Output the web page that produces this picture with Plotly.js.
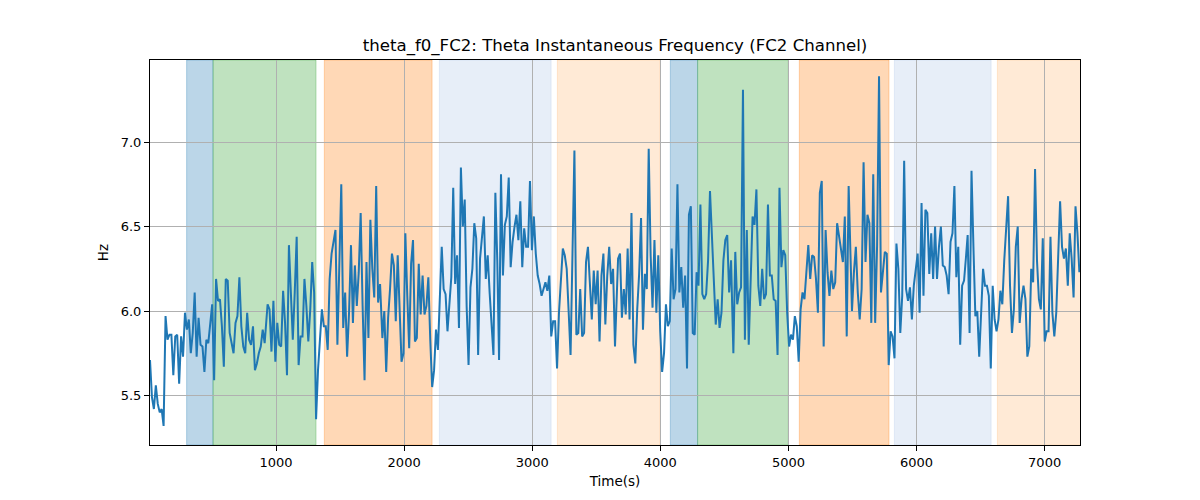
<!DOCTYPE html>
<html>
<head>
<meta charset="utf-8">
<script src="https://cdn.plot.ly/plotly-3.0.1.min.js"></script>
<style>html,body{margin:0;padding:0;background:#fff;}#chart{width:1200px;height:500px;}</style>
</head>
<body>
<div id="chart"></div>
<script>
// Series values (Hz)
var seg1 = [5.71,5.49,5.42,5.56,5.45,5.40,5.42,5.32,5.97,5.83,5.86,5.86,5.62,5.85,5.86,5.57,5.85,5.73,5.99,5.89,5.95,5.75,5.87,6.11,5.73,5.96,5.80,5.79,5.64,5.83,5.81,5.93,6.04,5.59,6.19,6.06,6.07,5.91,5.67,6.19,6.18,5.87,5.81,5.75,5.93,5.97,6.20,5.91,5.79,5.75,5.99,5.83,5.80,5.91,5.65,5.69,5.75,5.79,5.89,5.81];
var seg2 = [6.04,6.01,5.76,6.06,5.70,5.93,5.80,5.79,6.12,5.93,5.62,6.39,6.11,5.83,6.11,6.44,5.68,5.85,5.85,6.19,6.03,5.82,6.01,6.29,6.11,5.36,5.65,5.85,6.01,5.91,5.91,5.77,6.19,6.34,6.42,6.48,5.80,6.23,6.75,5.90,6.11,5.73,5.99,6.39,5.93,6.27,6.03,6.23,6.58,6.03,5.59,6.29,5.84,6.54,6.25,6.08,6.74,6.05,6.16];
var seg3 = [5.84,6.00,5.64,5.96,6.13,6.34,6.27,5.94,6.33,6.03,5.70,5.75,6.46,6.09,5.78,6.28,6.42,5.82,5.84,6.28,5.98,6.21,5.98,6.03,6.20,5.83,5.55,5.65,5.89,5.77,6.08,6.38,6.13,6.10,5.88,6.05,6.20,6.73,6.16,6.33,5.90,6.85,6.50,6.66,6.03,5.68,6.14,6.25,6.52,6.43,5.74,6.31,6.46,6.56,6.19,6.33,6.11,5.91,5.74,6.70,6.30];
var seg4 = [5.71,6.81,6.21,6.51,6.56,6.79,6.26,6.41,6.50,6.57,6.42,6.65,6.26,6.49,6.38,6.38,6.77,6.36,6.56,6.34,6.21,6.16,6.09,6.13,6.17,6.12,6.21,5.85,5.94,5.94,5.66,5.99,6.19,6.37,6.33,6.25,6.00,5.74,6.34,6.95,5.86,5.87,6.13,5.85,5.87,6.29,6.38,6.19,5.95,6.24,6.04,6.24,5.82,6.21,6.34,5.92,6.21,6.38,6.16,6.25,5.79];
var seg5 = [6.31,6.34,5.96,6.13,5.98,6.37,5.95,6.58,5.80,5.69,6.01,6.22,6.55,5.89,6.22,6.13,6.96,6.33,6.02,6.42,5.99,6.33,5.88,5.64,5.75,6.04,5.91,5.94,6.37,6.07,6.13,6.75,6.11,6.26,6.02,6.21,5.66,6.57,6.62,5.87,5.86,6.23,6.15,6.63,6.10,6.07,6.10,6.30,6.71,6.47,6.25,5.92,6.07,5.90,5.99,6.30,6.42,6.45,6.11,6.30];
var seg6 = [5.75,6.35,6.04,6.11,6.14,7.31,5.83,6.48,5.80,6.19,6.56,6.51,6.72,6.15,6.03,6.25,6.07,6.10,6.63,6.21,6.21,6.07,6.06,5.74,6.73,6.26,6.36,6.33,5.99,5.79,5.86,5.83,5.97,5.91,5.70,6.01,6.11,6.07,6.21,6.39,6.19,6.33,6.32,6.19,5.99,6.70,6.77,5.79,6.48,6.23,6.09,6.24,6.13,6.17,6.52,6.44,6.36,6.29,6.56,5.85,6.74];
var seg7 = [6.00,6.23,6.38,6.11,5.95,6.13,6.88,6.29,6.57,6.52,5.93,6.81,5.93,6.39,7.39,6.11,6.23,6.35,6.34,5.68,5.88,5.85,5.72,6.40,6.25,5.87,6.09,6.89,6.13,6.06,6.14,5.95,6.15,6.24,6.34,5.99,6.64,6.09,6.60,6.58,6.22,6.46,6.19,6.50,6.19,6.38,6.50,6.27,6.26,6.21,6.10,6.41,6.46,6.74,6.20,6.38,5.80,6.15,6.18,6.32];
var seg8 = [6.45,5.87,6.83,6.38,5.97,6.00,5.73,5.99,6.25,6.15,6.15,6.09,5.66,6.15,5.95,5.88,5.95,6.12,6.04,6.30,6.48,6.68,6.15,5.87,6.01,6.38,6.50,5.93,6.07,6.15,6.07,5.73,5.79,6.25,6.17,6.84,6.30,6.07,6.01,6.43,5.82,5.88,5.88,6.44,5.99,5.85,5.99,6.30,6.65,6.38,6.31,6.37,6.15,6.46,6.31,6.08,6.62,6.46,6.23];
// Time span (s) of each segment: [first, last]
var segTimes = [[16,911],[934,1812],[1830,2727],[2741,3646],[3670,4552],[4570,5470],[5496,6386],[6399,7271]];

// Shaded state intervals (s)
var spanStart = [302, 508, 1377, 2275, 3196, 4078, 4291, 5085, 5827, 6631];
var spanEnd   = [508, 1312, 2218, 3147, 3995, 4291, 4999, 5785, 6582, 7300];
var spanKind  = ['blue','green','orange','lightblue','lightorange','blue','green','orange','lightblue','lightorange'];

var xTicks = [1000,2000,3000,4000,5000,6000,7000];
var yTicks = [5.5,6.0,6.5,7.0];

var kindColor = {
  blue: 'rgba(31,119,180,0.3)',
  green: 'rgba(44,160,44,0.3)',
  orange: 'rgba(255,127,14,0.3)',
  lightblue: 'rgba(174,199,232,0.3)',
  lightorange: 'rgba(255,187,120,0.3)'
};

var segs = [seg1,seg2,seg3,seg4,seg5,seg6,seg7,seg8];
var xs = [], ys = [];
segs.forEach(function(s, k){
  var a = segTimes[k][0], b = segTimes[k][1];
  for (var i = 0; i < s.length; i++) {
    xs.push(a + (b - a) * i / (s.length - 1));
    ys.push(s[i]);
  }
});

var shapes = spanStart.map(function(s, i){
  return {type:'rect', xref:'x', yref:'paper', x0:s, x1:spanEnd[i], y0:0, y1:1,
          fillcolor: kindColor[spanKind[i]], line:{width:1, color: kindColor[spanKind[i]]}, layer:'below'};
});

var tickFont = {family:'DejaVu Sans, sans-serif', size:13, color:'#000'};
var labelFont = {family:'DejaVu Sans, sans-serif', size:13.5, color:'#000'};

Plotly.newPlot('chart', [{
  x: xs, y: ys, type:'scatter', mode:'lines',
  line:{color:'#1f77b4', width:2}, hoverinfo:'x+y'
}], {
  width:1200, height:500,
  margin:{l:150, r:120, t:60, b:55},
  paper_bgcolor:'#fff', plot_bgcolor:'rgba(0,0,0,0)',
  font: tickFont,
  showlegend:false,
  title:{text:'theta_f0_FC2: Theta Instantaneous Frequency (FC2 Channel)', font:{family:'DejaVu Sans, sans-serif', size:16.6, color:'#000'}, x:0.5125, xanchor:'center', y:0.899, yanchor:'bottom'},
  xaxis:{range:[16,7276], tickvals:xTicks, ticktext:xTicks.map(String), ticks:'outside', ticklen:5, tickcolor:'#000',
         showgrid:true, gridcolor:'#b0b0b0', gridwidth:1, zeroline:false,
         showline:true, mirror:true, linecolor:'#000', linewidth:1,
         title:{text:'Time(s)', font:labelFont, standoff:7}, tickfont:tickFont},
  yaxis:{range:[5.207,7.486], tickvals:yTicks, ticktext:yTicks.map(function(v){return v.toFixed(1);}), ticks:'outside', ticklen:5, tickcolor:'#000',
         showgrid:true, gridcolor:'#b0b0b0', gridwidth:1, zeroline:false,
         showline:true, mirror:true, linecolor:'#000', linewidth:1,
         title:{text:'Hz', font:labelFont, standoff:8}, tickfont:tickFont},
  shapes: shapes
}, {displayModeBar:false, staticPlot:true});
</script>
</body>
</html>
